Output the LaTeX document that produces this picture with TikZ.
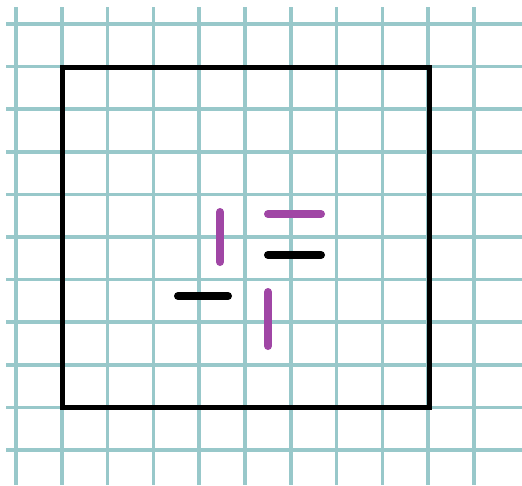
\documentclass[tikz,border=0pt]{standalone}
\definecolor{gridc}{RGB}{152,200,202}
\definecolor{purp}{RGB}{160,70,165}
\begin{document}
\begin{tikzpicture}[x=1pt,y=-1pt,
  gridline/.style={draw=gridc,line width=3.5pt},
  frame/.style={draw=black,line width=5pt,line join=miter},
  purpseg/.style={draw=purp,line width=8pt,line cap=round},
  blackseg/.style={draw=black,line width=8pt,line cap=round}]
\useasboundingbox (0,0) rectangle (522,485);
\fill[white] (0,0) rectangle (522,485);
\foreach \i in {0,...,10} {
  \draw[gridline] ({16+45.8*\i},7) -- ({16+45.8*\i},485);
}
\foreach \j in {0,...,10} {
  \draw[gridline] (6,{24+42.6*\j}) -- (522,{24+42.6*\j});
}
\draw[frame] (62,67) rectangle (429,407);
\draw[purpseg] (220,212) -- (220,262);
\draw[purpseg] (268,214) -- (321,214);
\draw[blackseg] (268,255) -- (321,255);
\draw[blackseg] (178,296) -- (228,296);
\draw[purpseg] (268,292) -- (268,346);
\end{tikzpicture}
\end{document}
